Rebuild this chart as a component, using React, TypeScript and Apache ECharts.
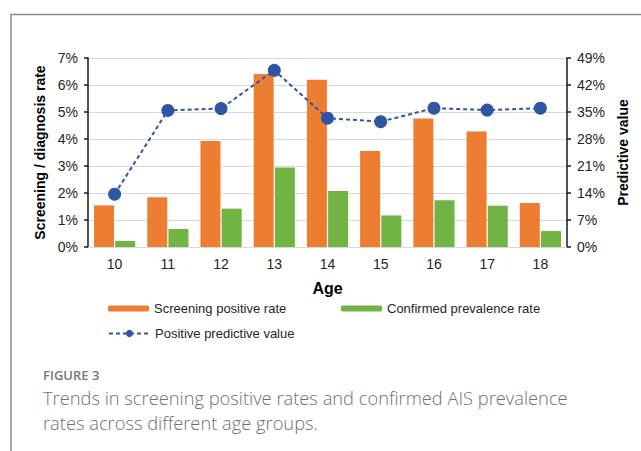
import React, { useEffect, useRef } from "react";
import * as echarts from "echarts";

const ages = ["10", "11", "12", "13", "14", "15", "16", "17", "18"];
const screeningRate = [1.54, 1.84, 3.93, 6.41, 6.19, 3.56, 4.76, 4.28, 1.63];
const confirmedRate = [0.22, 0.67, 1.42, 2.94, 2.07, 1.17, 1.73, 1.53, 0.59];
const ppv = [13.7, 35.4, 35.9, 45.8, 33.4, 32.5, 36.0, 35.5, 36.0];

const seriesNames = ["Screening positive rate", "Confirmed prevalence rate", "Positive predictive value"];
const captionLines = [
  "FIGURE 3",
  "Trends in screening positive rates and confirmed AIS prevalence",
  "rates across different age groups.",
];

const AXIS_FONT = "'Liberation Sans', Arial, sans-serif";
const CAPTION_FONT = "'Open Sans', sans-serif";

export default function App() {
  const ref = useRef<HTMLDivElement>(null);
  useEffect(() => {
    if (!ref.current) return;
    const chart = echarts.init(ref.current, undefined, { renderer: "svg" });
    const labelStyle = { fontFamily: AXIS_FONT, fontSize: 14, color: "#262626" };
    const legendBase = {
      padding: 0,
      itemWidth: 41,
      itemHeight: 6,
      textStyle: { fontFamily: AXIS_FONT, fontSize: 13, color: "#262626" },
      selectedMode: false,
    };
    const captionStyle = {
      fontFamily: CAPTION_FONT,
      fontSize: 18.3,
      fontWeight: 300,
      fill: "#707070",
      verticalAlign: "middle",
    };
    chart.setOption({
      animation: false,
      backgroundColor: "#ffffff",
      grid: { left: 88, right: 74, top: 58, height: 189 },
      xAxis: {
        type: "category",
        data: ages,
        name: "Age",
        nameLocation: "middle",
        nameGap: 33,
        nameTextStyle: { fontFamily: AXIS_FONT, fontSize: 16, fontWeight: "bold", color: "#000" },
        axisLine: { lineStyle: { color: "#D9D9D9", width: 1 } },
        axisTick: { show: false },
        axisLabel: { ...labelStyle, margin: 10 },
      },
      yAxis: [
        {
          type: "value",
          min: 0,
          max: 7,
          interval: 1,
          name: "Screening / diagnosis rate",
          nameLocation: "middle",
          nameRotate: 90,
          nameGap: 39,
          nameTextStyle: { fontFamily: AXIS_FONT, fontSize: 14, fontWeight: "bold", color: "#000" },
          axisLine: { show: true, lineStyle: { color: "#1a1a1a", width: 1.5 } },
          axisTick: { show: true, inside: false, length: 4, lineStyle: { color: "#1a1a1a", width: 1.5 } },
          axisLabel: { ...labelStyle, margin: 10, formatter: "{value}%" },
          splitLine: { show: true, lineStyle: { color: "#D9D9D9", width: 1 } },
        },
        {
          type: "value",
          min: 0,
          max: 49,
          interval: 7,
          position: "right",
          name: "Predictive value",
          nameLocation: "middle",
          nameRotate: 90,
          nameGap: 48,
          nameTextStyle: { fontFamily: AXIS_FONT, fontSize: 14, fontWeight: "bold", color: "#000" },
          axisLine: { show: true, lineStyle: { color: "#1a1a1a", width: 1.5 } },
          axisTick: { show: true, inside: false, length: 4, lineStyle: { color: "#1a1a1a", width: 1.5 } },
          axisLabel: { ...labelStyle, margin: 10, formatter: "{value}%" },
          splitLine: { show: false },
        },
      ],
      legend: [
        { ...legendBase, data: [seriesNames[0]], left: 108, top: 302 },
        { ...legendBase, data: [seriesNames[1]], left: 341, top: 302 },
        { ...legendBase, itemHeight: 9, data: [seriesNames[2]], left: 108, top: 327 },
      ],
      series: [
        {
          name: seriesNames[0],
          type: "bar",
          data: screeningRate,
          barWidth: 20,
          barGap: "6%",
          itemStyle: { color: "#ED7D31" },
        },
        {
          name: seriesNames[1],
          type: "bar",
          data: confirmedRate,
          barWidth: 20,
          itemStyle: { color: "#72B443" },
        },
        {
          name: seriesNames[2],
          type: "line",
          yAxisIndex: 1,
          data: ppv,
          symbol: "circle",
          symbolSize: 13,
          itemStyle: { color: "#2F55A5" },
          lineStyle: { color: "#2F55A5", width: 2, type: [4, 3] },
          z: 5,
        },
      ],
      graphic: [
        {
          type: "polyline",
          shape: { points: [[11, 451], [11, 14.5], [641, 14.5]] },
          style: { stroke: "#8c8c8c", lineWidth: 1.5, fill: "none" },
        },
        {
          type: "text",
          x: 43,
          y: 375,
          style: {
            text: captionLines[0],
            fontFamily: CAPTION_FONT,
            fontSize: 13,
            fontWeight: 600,
            fill: "#777777",
            verticalAlign: "middle",
          },
        },
        {
          type: "text",
          x: 43,
          y: 397,
          style: { ...captionStyle, text: captionLines[1] },
        },
        {
          type: "text",
          x: 43,
          y: 422,
          style: { ...captionStyle, text: captionLines[2] },
        },
      ],
    });
    return () => chart.dispose();
  }, []);
  return (
    <div
      ref={ref}
      style={{ position: "absolute", left: 0, top: 0, width: 641, height: 451 }}
    />
  );
}
